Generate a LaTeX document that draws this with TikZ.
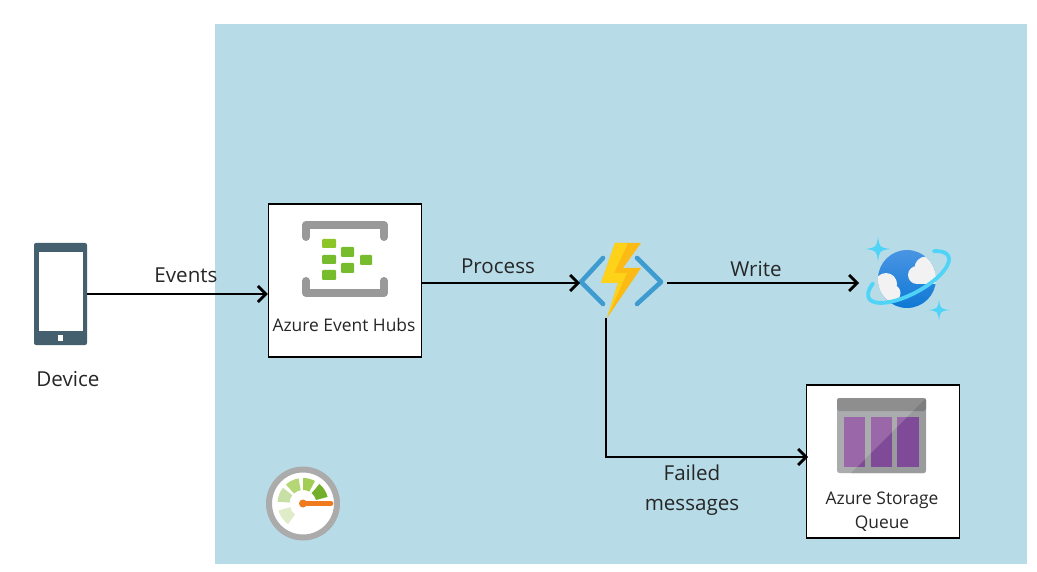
\documentclass[tikz,border=0pt]{standalone}
\usepackage{fontspec}
\setmainfont{Open Sans}
\usetikzlibrary{arrows.meta,calc}
\definecolor{panelblue}{HTML}{B7DCE8}
\definecolor{slate}{HTML}{44606F}
\definecolor{hubgray}{HTML}{999999}
\definecolor{hubgreen}{HTML}{76BC2D}
\definecolor{chev}{HTML}{3E9BCF}
\definecolor{boltA}{HTML}{FFD21A}
\definecolor{boltB}{HTML}{FBBA14}
\definecolor{globe}{HTML}{4A95E4}
\definecolor{globeB}{HTML}{0F78D4}
\definecolor{ringc}{HTML}{4FD3F7}
\definecolor{cloudc}{HTML}{F2F2F2}
\definecolor{qA}{HTML}{ABACAD}
\definecolor{qB}{HTML}{9A9B9C}
\definecolor{qbandA}{HTML}{8E8E8E}
\definecolor{qbandB}{HTML}{7D7D7D}
\definecolor{purA}{HTML}{9A68A8}
\definecolor{purB}{HTML}{7F4A97}
\definecolor{gaugeA}{HTML}{E0ECC8}
\definecolor{gaugeB}{HTML}{C8E0A5}
\definecolor{gaugeC}{HTML}{B4D675}
\definecolor{gaugeD}{HTML}{A2CD55}
\definecolor{gaugeE}{HTML}{72B02C}
\definecolor{pointer}{HTML}{F07A1E}
\tikzset{
  x=1pt,y=-1pt,
  flow/.style={draw=black,line width=2.7pt,-{Straight Barb[length=8pt,width=16pt,line width=2.7pt]}},
  whitebox/.style={draw=black,line width=1.4pt,fill=white,minimum width=153pt,minimum height=153pt,inner sep=0pt},
  iconnode/.style={inner sep=0pt,outer sep=0pt},
  lbl/.style={font=\fontsize{20.6}{30}\selectfont,inner sep=0pt,align=center,text=black!85},
  boxlbl/.style={font=\fontsize{17.4}{24}\selectfont,inner sep=0pt,align=center,text=black!85},
}
\newcommand{\sparkle}[4]{\fill[#4] (#1,#2-#3) .. controls (#1+.12*#3,#2-.12*#3) .. (#1+#3,#2) .. controls (#1+.12*#3,#2+.12*#3) .. (#1,#2+#3) .. controls (#1-.12*#3,#2+.12*#3) .. (#1-#3,#2) .. controls (#1-.12*#3,#2-.12*#3) .. cycle;}
\newcommand{\gaugeseg}[3]{\fill[#3] (#1:25.5) arc[start angle=#1,end angle=#2,radius=25.5] -- (#2:13.5) arc[start angle=#2,end angle=#1,radius=13.5] -- cycle;}
\begin{document}
\begin{tikzpicture}
\useasboundingbox (0,0) rectangle (1037,572);
\fill[white] (0,0) rectangle (1037,572);
\node[iconnode,fill=panelblue,minimum width=812pt,minimum height=540pt] (panel) at (621,294) {};

% device
\node[iconnode,fill=slate,rounded corners=2pt,minimum width=53pt,minimum height=102pt] (phone) at (60.5,294) {};
\fill[white] (39,252) rectangle (83,331);
\fill[white] (57.5,335.5) rectangle (63,341);
\node[lbl] (devicelbl) at (68,379) {Device};

% event hubs
\node[whitebox] (hubs) at (345,280.5) {};
\begin{scope}[hubgray,line width=8pt,line cap=round,line join=round]
\draw (306,237) -- (306,225) -- (384,225) -- (384,237);
\draw (306,281) -- (306,293) -- (384,293) -- (384,281);
\end{scope}
\begin{scope}[hubgreen]
\fill[rounded corners=1pt,fill=hubgreen!85!yellow] (322,239) rectangle (336,248);
\fill[rounded corners=1pt] (322,255) rectangle (336,264);
\fill[rounded corners=1pt] (322,270) rectangle (336,280);
\fill[rounded corners=1pt] (341,247) rectangle (354,257);
\fill[rounded corners=1pt] (341,263) rectangle (354,273);
\fill[rounded corners=1pt] (360,255) rectangle (372,265);
\end{scope}
\node[boxlbl] (hubslbl) at (344,325) {Azure Event Hubs};

% function
\node[iconnode,minimum width=83pt,minimum height=70pt] (func) at (621.5,283) {};
\draw[chev,line width=4.6pt,line cap=round,line join=round] (603,258) -- (581,282) -- (603,304);
\draw[chev,line width=4.6pt,line cap=round,line join=round] (637,258) -- (661,282) -- (637,304);
\fill[boltB] (615,243) -- (641,243) -- (623,268) -- (641,268) -- (607,318) -- (618,283) -- (601,283) -- cycle;
\fill[boltA] (615,243) -- (628,243) -- (614,273) -- (627,273) -- (607,318) -- (618,283) -- (601,283) -- cycle;

% cosmos
\node[iconnode,minimum width=92pt,minimum height=70pt] (cosmos) at (905,283) {};
\shade[top color=globe,bottom color=globeB] (907,279) circle[radius=29];
\begin{scope}
\clip (907,279) circle[radius=29];
\fill[cloudc] (886,284) circle[radius=11];
\fill[cloudc] (892,293) circle[radius=8.5];
\fill[cloudc] (878,276) rectangle (889,297);
\fill[cloudc] (917,275) circle[radius=9];
\fill[cloudc] (926,268) circle[radius=11.5];
\fill[cloudc] (917,272) rectangle (940,284);
\end{scope}
\begin{scope}[shift={(908.5,277)},rotate=28,y=1pt]
\draw[ringc,line width=3.8pt,line cap=round] (140:45 and 17) arc[start angle=140,end angle=400,x radius=45,y radius=17];
\end{scope}
\sparkle{878}{249}{12.5}{ringc}
\sparkle{939}{310}{10.5}{ringc}

% storage queue
\node[whitebox] (queue) at (883,461.5) {};
\fill[qA,rounded corners=2.5pt] (837,398) rectangle (926,473);
\fill[qbandA,rounded corners=2.5pt] (837,398) rectangle (926,411);
\fill[purA] (844,417) rectangle (865,467);
\fill[purA] (871,417) rectangle (892,467);
\fill[purA] (897,417) rectangle (919,467);
\begin{scope}
\clip (926,398) -- (926,473) -- (851,473) -- cycle;
\fill[qB,rounded corners=2.5pt] (837,398) rectangle (926,473);
\fill[qbandB,rounded corners=2.5pt] (837,398) rectangle (926,411);
\fill[purB] (844,417) rectangle (865,467);
\fill[purB] (871,417) rectangle (892,467);
\fill[purB] (897,417) rectangle (919,467);
\end{scope}
\node[boxlbl] (queuelbl) at (882,512) {Azure Storage\\Queue};

% gauge
\node[iconnode,circle,draw=black!33,fill=white,line width=6pt,minimum size=68pt] (gaugebody) at (303,503.5) {};
\begin{scope}[shift={(303,503.5)},y=1pt]
\gaugeseg{196}{234}{gaugeA}
\gaugeseg{142}{176}{gaugeB}
\gaugeseg{100}{132}{gaugeC}
\gaugeseg{62}{90}{gaugeD}
\gaugeseg{15}{50}{gaugeE}
\fill[pointer] (0,0) circle[radius=4];
\draw[pointer,line width=4.5pt,line cap=round] (0,0) -- (28,0);
\end{scope}

% connectors
\draw[flow] (phone.east) -- (phone.east -| hubs.west);
\draw[flow] (func.west -| hubs.east) -- (func.west);
\draw[flow] ([xshift=4pt]func.east) -- (cosmos.west);
\coordinate (failstart) at (606,318);
\coordinate (failend) at (808,457);
\draw[flow] (failstart) -- (failstart |- failend) -- (failend);

\node[lbl] (eventslbl) at (186,275) {Events};
\node[lbl] (processlbl) at (498,266) {Process};
\node[lbl] (writelbl) at (756,269) {Write};
\node[lbl] (failedlbl) at (692,490) {Failed\\messages};
\end{tikzpicture}
\end{document}
